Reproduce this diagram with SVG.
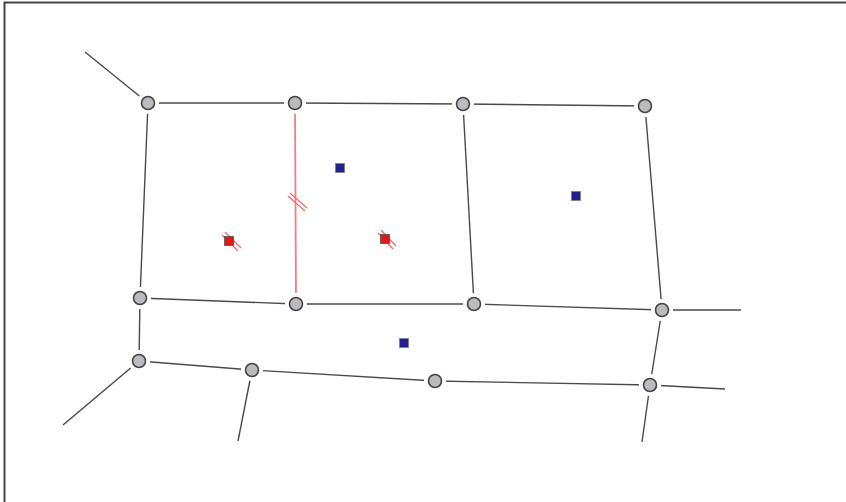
<svg xmlns="http://www.w3.org/2000/svg" width="846" height="502" viewBox="0 0 846 502">
<style>
.e{stroke:#4a4a4a;stroke-width:1.4;fill:none}
.r{stroke:#f27f7f;stroke-width:1.8;fill:none}
.h{stroke:#f06a6a;stroke-width:1.2;fill:none}
.halo{fill:#fff}
.n{fill:#bbbbbf;stroke:#444;stroke-width:1.6}
.b{fill:#22228a;stroke:#7a7aa8;stroke-width:0.8}
.rs{fill:#e01818;stroke:#555;stroke-width:0.8}
</style>
<rect x="0" y="0" width="846" height="502" fill="#fff"/>
<path d="M4.5 502 V2.5 H846" stroke="#444" stroke-width="2" fill="none"/>
<g id="connectors">
<line class="e" x1="148" y1="103" x2="295" y2="103"/>
<line class="e" x1="295" y1="103" x2="463" y2="104"/>
<line class="e" x1="463" y1="104" x2="645" y2="106"/>
<line class="e" x1="148" y1="103" x2="140" y2="298"/>
<line class="r" x1="295" y1="103" x2="296" y2="304"/>
<line class="e" x1="463" y1="104" x2="474" y2="304"/>
<line class="e" x1="645" y1="106" x2="662" y2="310"/>
<line class="e" x1="140" y1="298" x2="296" y2="304"/>
<line class="e" x1="296" y1="304" x2="474" y2="304"/>
<line class="e" x1="474" y1="304" x2="662" y2="310"/>
<line class="e" x1="140" y1="298" x2="139" y2="361"/>
<line class="e" x1="662" y1="310" x2="650" y2="385"/>
<line class="e" x1="139" y1="361" x2="252" y2="370"/>
<line class="e" x1="252" y1="370" x2="435" y2="381"/>
<line class="e" x1="435" y1="381" x2="650" y2="385"/>
<line class="e" x1="148" y1="103" x2="85" y2="52"/>
<line class="e" x1="662" y1="310" x2="741" y2="310"/>
<line class="e" x1="139" y1="361" x2="63" y2="425"/>
<line class="e" x1="252" y1="370" x2="238" y2="441"/>
<line class="e" x1="650" y1="385" x2="725" y2="389"/>
<line class="e" x1="650" y1="385" x2="642" y2="442"/>
<line class="h" x1="288" y1="196" x2="305" y2="211"/>
<line class="h" x1="290" y1="193" x2="307" y2="208"/>
</g>
<g id="nodes">
<g id="A1"><circle class="halo" cx="148" cy="103" r="11"/><circle class="n" cx="148" cy="103" r="6.5"/></g>
<g id="A2"><circle class="halo" cx="295" cy="103" r="11"/><circle class="n" cx="295" cy="103" r="6.5"/></g>
<g id="A3"><circle class="halo" cx="463" cy="104" r="11"/><circle class="n" cx="463" cy="104" r="6.5"/></g>
<g id="A4"><circle class="halo" cx="645" cy="106" r="11"/><circle class="n" cx="645" cy="106" r="6.5"/></g>
<g id="B1"><circle class="halo" cx="140" cy="298" r="11"/><circle class="n" cx="140" cy="298" r="6.5"/></g>
<g id="B2"><circle class="halo" cx="296" cy="304" r="11"/><circle class="n" cx="296" cy="304" r="6.5"/></g>
<g id="B3"><circle class="halo" cx="474" cy="304" r="11"/><circle class="n" cx="474" cy="304" r="6.5"/></g>
<g id="B4"><circle class="halo" cx="662" cy="310" r="11"/><circle class="n" cx="662" cy="310" r="6.5"/></g>
<g id="C1"><circle class="halo" cx="139" cy="361" r="11"/><circle class="n" cx="139" cy="361" r="6.5"/></g>
<g id="C2"><circle class="halo" cx="252" cy="370" r="11"/><circle class="n" cx="252" cy="370" r="6.5"/></g>
<g id="C3"><circle class="halo" cx="435" cy="381" r="11"/><circle class="n" cx="435" cy="381" r="6.5"/></g>
<g id="C4"><circle class="halo" cx="650" cy="385" r="11"/><circle class="n" cx="650" cy="385" r="6.5"/></g>
<g id="Q1"><rect class="b" x="335.5" y="163.5" width="9" height="9"/></g>
<g id="Q2"><rect class="b" x="571.5" y="191.5" width="9" height="9"/></g>
<g id="Q3"><rect class="b" x="399.5" y="338.5" width="9" height="9"/></g>
<g id="R1">
<line class="h" x1="222" y1="235" x2="238" y2="251"/>
<line class="h" x1="225" y1="232" x2="241" y2="248"/>
<rect class="rs" x="224.5" y="236.5" width="9" height="9"/>
</g>
<g id="R2">
<line class="h" x1="378" y1="233" x2="393" y2="249"/>
<line class="h" x1="381" y1="230" x2="396" y2="246"/>
<rect class="rs" x="380.5" y="234.5" width="9" height="9"/>
</g>
</g>
</svg>
